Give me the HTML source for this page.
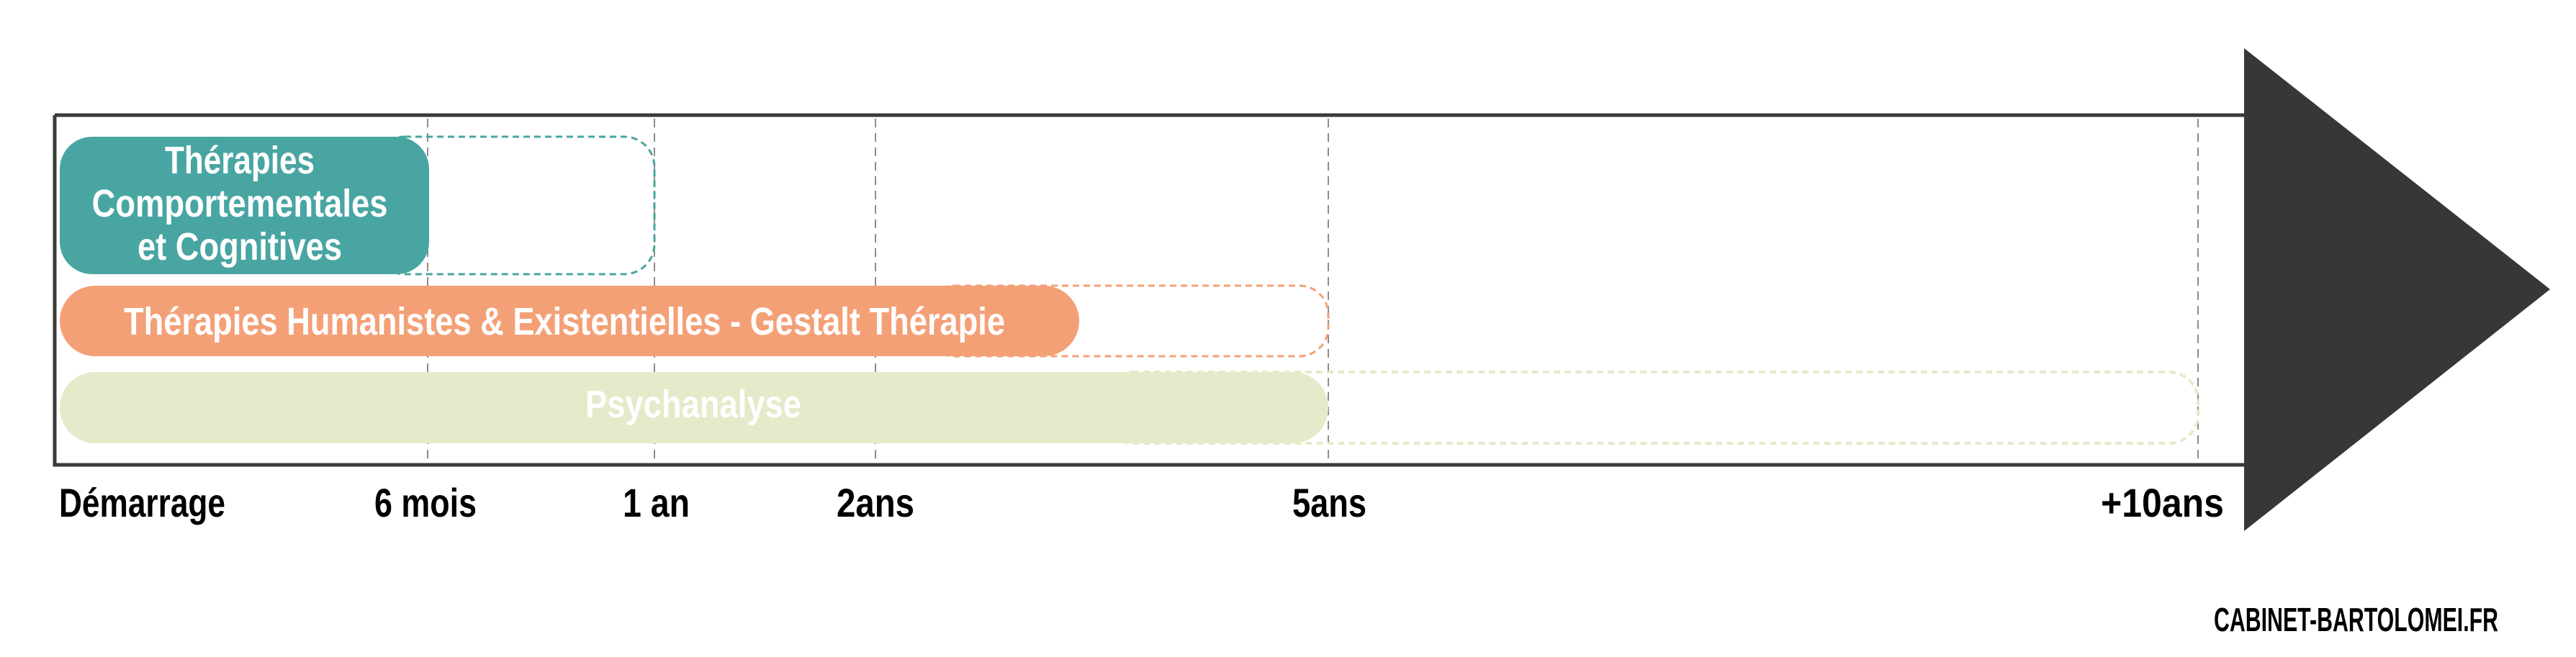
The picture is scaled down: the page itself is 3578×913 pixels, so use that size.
<!DOCTYPE html>
<html><head><meta charset="utf-8"><style>
html,body{margin:0;padding:0;background:#fff;}
svg{display:block;}
text{font-family:"Liberation Sans",sans-serif;font-weight:bold;}
</style></head><body>
<svg width="3578" height="913" viewBox="0 0 3578 913" xmlns="http://www.w3.org/2000/svg">
<rect x="0" y="0" width="3578" height="913" fill="#fff"/>
<g stroke="#666" stroke-width="1.5" stroke-dasharray="12,8">
<line x1="594" y1="165" x2="594" y2="642"/>
<line x1="909" y1="165" x2="909" y2="642"/>
<line x1="1216" y1="165" x2="1216" y2="642"/>
<line x1="1845" y1="165" x2="1845" y2="642"/>
<line x1="3053" y1="165" x2="3053" y2="642"/>
</g>
<rect x="520" y="190" width="389" height="191" rx="42" fill="none" stroke="#48a5a2" stroke-width="3" stroke-dasharray="9,6"/>
<rect x="1285" y="397" width="560" height="98" rx="40" fill="none" stroke="#f4a077" stroke-width="3" stroke-dasharray="9,6"/>
<rect x="1533" y="517" width="1520" height="99" rx="40" fill="none" stroke="#e5eacb" stroke-width="4" stroke-dasharray="9,6"/>
<rect x="83" y="190" width="513" height="191" rx="45" fill="#48a5a2"/>
<rect x="83" y="397" width="1416" height="98" rx="49" fill="#f4a077"/>
<rect x="83" y="517" width="1762" height="99" rx="49" fill="#e5eacb"/>
<path d="M76,160 H3117 M76,160 V646 H3117" fill="none" stroke="#3a3a38" stroke-width="5"/>
<polygon points="3117,67 3542,402 3117,738" fill="#373735"/>
<g fill="#fff" font-size="54">
<text x="333" y="241" text-anchor="middle" textLength="208" lengthAdjust="spacingAndGlyphs">Thérapies</text>
<text x="333" y="301" text-anchor="middle" textLength="411" lengthAdjust="spacingAndGlyphs">Comportementales</text>
<text x="333" y="361" text-anchor="middle" textLength="284" lengthAdjust="spacingAndGlyphs">et Cognitives</text>
<text x="172" y="465" textLength="1224" lengthAdjust="spacingAndGlyphs">Thérapies Humanistes &amp; Existentielles - Gestalt Thérapie</text>
<text x="963" y="580" text-anchor="middle" textLength="300" lengthAdjust="spacingAndGlyphs">Psychanalyse</text>
</g>
<g fill="#000" font-size="56">
<text x="82" y="718" textLength="231" lengthAdjust="spacingAndGlyphs">Démarrage</text>
<text x="520" y="718" textLength="142" lengthAdjust="spacingAndGlyphs">6 mois</text>
<text x="865" y="718" textLength="93" lengthAdjust="spacingAndGlyphs">1 an</text>
<text x="1162" y="718" textLength="108" lengthAdjust="spacingAndGlyphs">2ans</text>
<text x="1795" y="718" textLength="103" lengthAdjust="spacingAndGlyphs">5ans</text>
<text x="2918" y="718" textLength="171" lengthAdjust="spacingAndGlyphs">+10ans</text>
<text x="3075" y="877" font-size="46" textLength="395" lengthAdjust="spacingAndGlyphs">CABINET-BARTOLOMEI.FR</text>
</g>
</svg>
</body></html>
